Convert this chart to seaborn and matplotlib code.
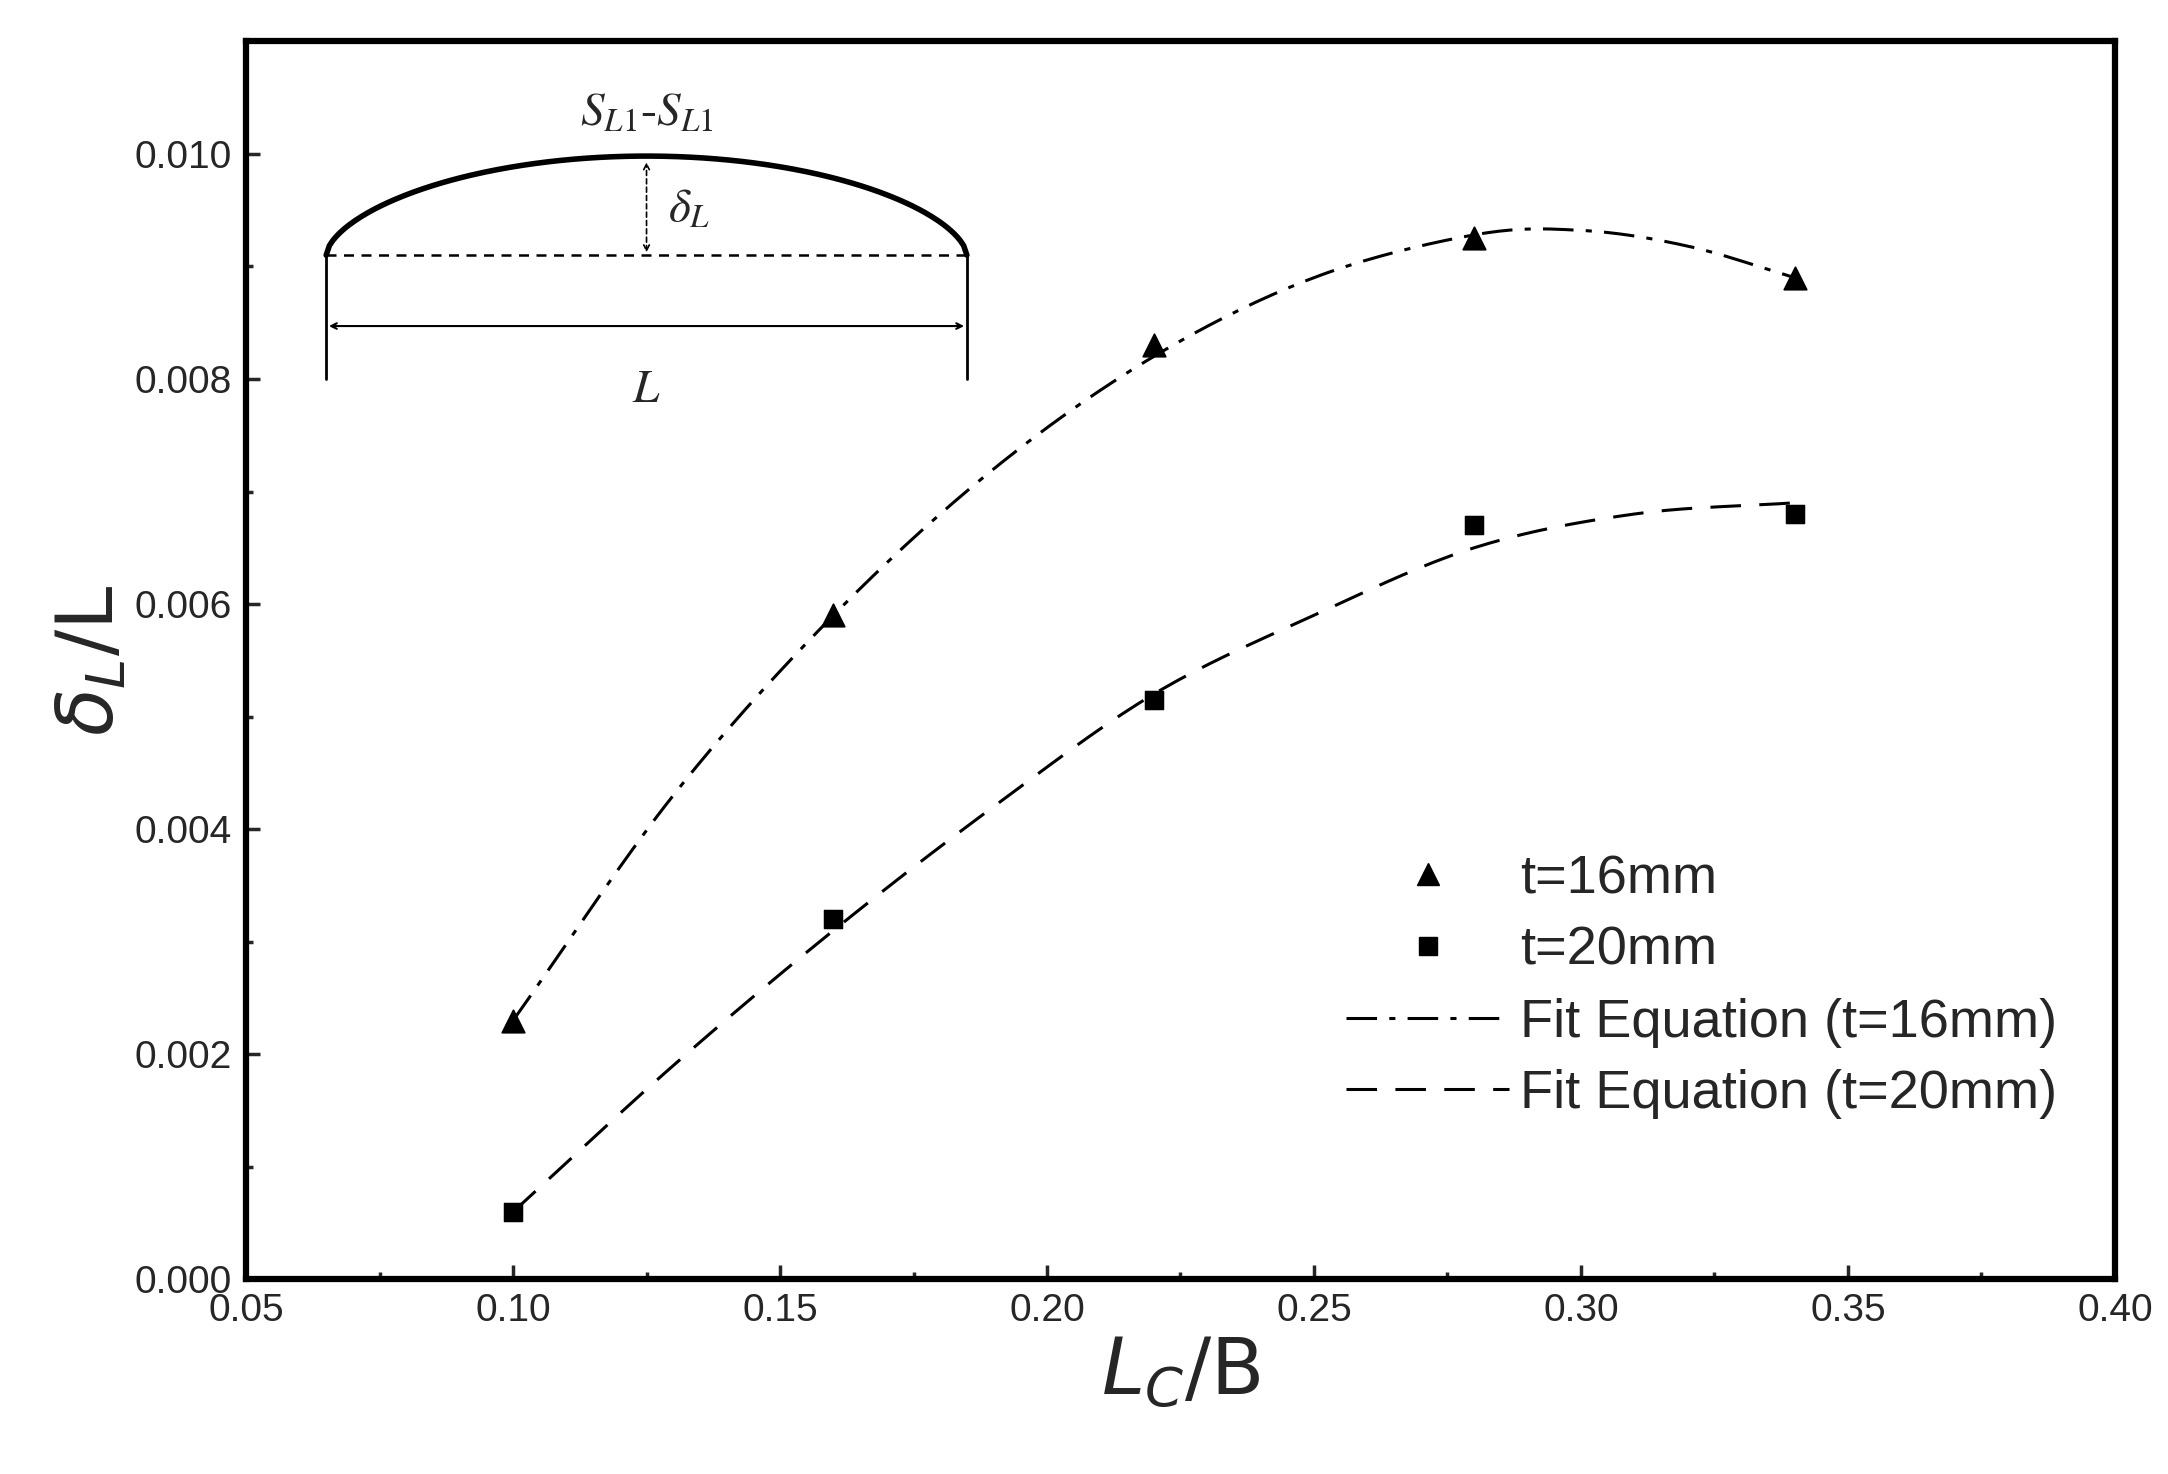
import numpy as np
import matplotlib
matplotlib.use("Agg")
import matplotlib.pyplot as plt
import seaborn as sns
from matplotlib.ticker import MultipleLocator
from matplotlib.lines import Line2D

sns.set_style("white")
plt.rcParams['font.family'] = ['Liberation Sans', 'DejaVu Sans']
plt.rcParams['mathtext.fontset'] = 'dejavusans'
plt.rcParams['xtick.bottom'] = True
plt.rcParams['ytick.left'] = True

x_pts = [0.10, 0.16, 0.22, 0.28, 0.34]
y_t16 = [0.0023, 0.0059, 0.0083, 0.00925, 0.0089]
y_t20 = [0.0006, 0.0032, 0.00515, 0.0067, 0.0068]

fit_x16 = [0.10, 0.13, 0.16, 0.19, 0.22, 0.25, 0.28, 0.30, 0.32, 0.34]
fit_y16 = [0.0023, 0.0043, 0.0059, 0.0072, 0.0082, 0.0089, 0.00928, 0.00932, 0.00918, 0.0089]
fit_x20 = [0.10, 0.13, 0.16, 0.19, 0.22, 0.25, 0.28, 0.31, 0.34]
fit_y20 = [0.0006, 0.0019, 0.0031, 0.0042, 0.0052, 0.0059, 0.0065, 0.0068, 0.0069]

def smooth(xs, ys, n=20):
    P = np.column_stack([xs, ys])
    P = np.vstack([2 * P[0] - P[1], P, 2 * P[-1] - P[-2]])
    out = []
    t = np.linspace(0, 1, n, endpoint=False)[:, None]
    for i in range(1, len(P) - 2):
        p0, p1, p2, p3 = P[i - 1], P[i], P[i + 1], P[i + 2]
        out.append(0.5 * ((2 * p1) + (-p0 + p2) * t + (2 * p0 - 5 * p1 + 4 * p2 - p3) * t ** 2
                          + (-p0 + 3 * p1 - 3 * p2 + p3) * t ** 3))
    out.append(P[-2][None, :])
    out = np.vstack(out)
    return out[:, 0], out[:, 1]

fig = plt.figure(figsize=(21.68, 14.74), dpi=100)
ax = fig.add_axes([0.1135, 0.132, 0.862, 0.84])

ls16 = (0, (10, 4, 2, 4))
ls20 = (0, (10, 6))
xf, yf = smooth(fit_x16, fit_y16)
sns.lineplot(x=xf, y=yf, ax=ax, color='black', lw=2.2, sort=False)
ax.lines[-1].set_linestyle(ls16)
xf, yf = smooth(fit_x20, fit_y20)
sns.lineplot(x=xf, y=yf, ax=ax, color='black', lw=2.2, sort=False)
ax.lines[-1].set_linestyle(ls20)
sns.scatterplot(x=x_pts, y=y_t16, ax=ax, marker='^', s=260, color='black', edgecolor='black')
sns.scatterplot(x=x_pts, y=y_t20, ax=ax, marker='s', s=180, color='black', edgecolor='black')

handles = [Line2D([], [], marker='^', ls='none', color='black', ms=16),
           Line2D([], [], marker='s', ls='none', color='black', ms=13),
           Line2D([], [], color='black', lw=2.2, ls=ls16),
           Line2D([], [], color='black', lw=2.2, ls=ls20)]
labels = ['t=16mm', 't=20mm', 'Fit Equation (t=16mm)', 'Fit Equation (t=20mm)']
ax.legend(handles, labels, loc='lower right', bbox_to_anchor=(0.995, 0.09), frameon=False,
          fontsize=39, handlelength=3.0, handletextpad=0.2, labelspacing=0.4)

ix = np.linspace(0.065, 0.185, 200)
arc = 0.0091 + (0.00998 - 0.0091) * np.clip(1 - ((ix - 0.125) / 0.06) ** 2, 0, None) ** 0.6
ax.plot(ix, arc, color='black', lw=4)
ax.plot([0.065, 0.185], [0.0091, 0.0091], color='black', lw=1.8, ls=(0, (4, 3)))
ax.plot([0.065, 0.065], [0.0080, 0.0091], color='black', lw=2)
ax.plot([0.185, 0.185], [0.0080, 0.0091], color='black', lw=2)
ax.annotate('', xy=(0.065, 0.00847), xytext=(0.185, 0.00847),
            arrowprops=dict(arrowstyle='<->', color='black', lw=1.5))
ax.annotate('', xy=(0.125, 0.00995), xytext=(0.125, 0.0091),
            arrowprops=dict(arrowstyle='<->', color='black', lw=1.2, ls=(0, (3, 2))))
ax.text(0.129, 0.0095, r'$\delta_L$', fontsize=34, va='center', math_fontfamily='stix')
ax.text(0.125, 0.0079, r'$L$', fontsize=34, ha='center', va='center', math_fontfamily='stix')
ax.text(0.125, 0.01035, r'$S_{L1}$-$S_{L1}$', fontsize=34, ha='center', va='center',
        math_fontfamily='stix', family='Liberation Serif')

xt = np.arange(0.05, 0.401, 0.05)
yt = np.arange(0, 0.0101, 0.002)
ax.set_xlim(0.05, 0.40)
ax.set_ylim(0, 0.011)
ax.set_xticks(xt)
ax.set_yticks(yt)
ax.set_xticklabels([f'{v:.2f}' for v in xt])
ax.set_yticklabels([f'{v:.3f}' for v in yt])
ax.xaxis.set_minor_locator(MultipleLocator(0.025))
ax.yaxis.set_minor_locator(MultipleLocator(0.001))
ax.tick_params(which='both', direction='in', width=2.5, labelsize=28, pad=10,
               bottom=True, left=True)
ax.tick_params(which='major', length=10)
ax.tick_params(which='minor', length=5)
for s in ax.spines.values():
    s.set_linewidth(4.5)
    s.set_color('black')
ax.set_xlabel(r'$L_C$/B', fontsize=56, family='DejaVu Sans', labelpad=4)
ax.set_ylabel(r'$\delta_L$/L', fontsize=56, family='DejaVu Sans', labelpad=4)
fig.savefig('out.png', dpi=100)
